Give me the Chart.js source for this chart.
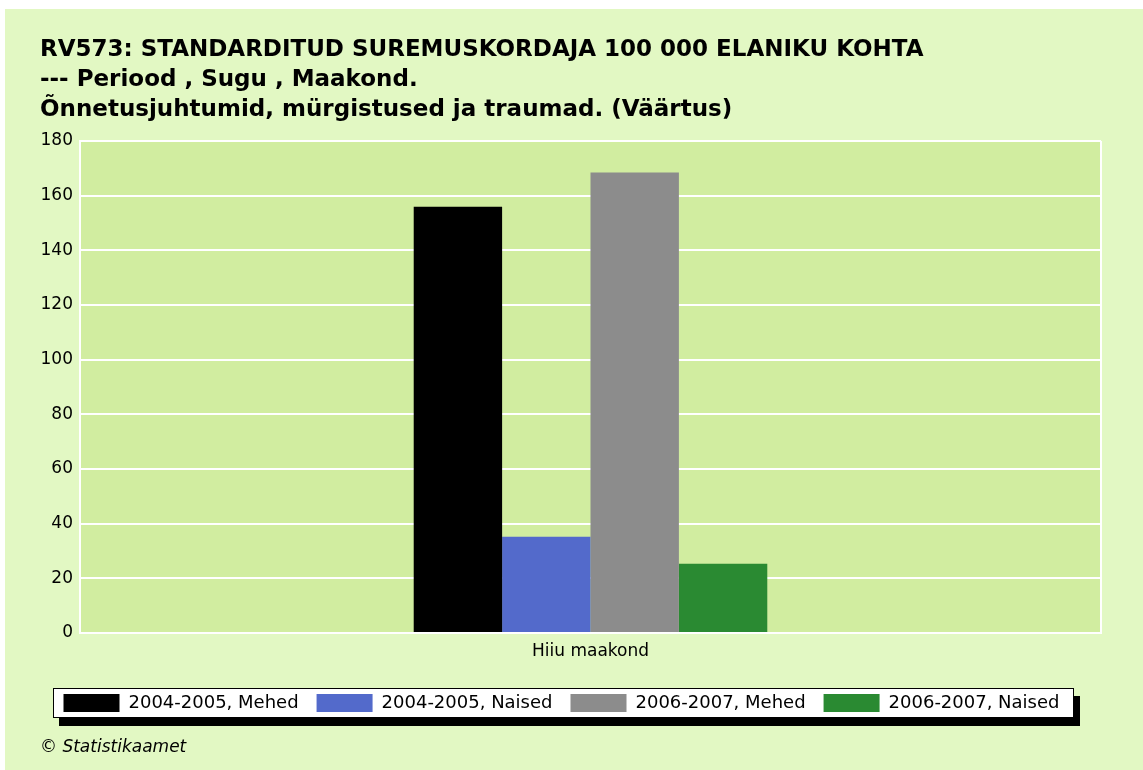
<!DOCTYPE html>
<html>
<head>
<meta charset="utf-8">
<script src="https://cdn.jsdelivr.net/npm/chart.js@4/dist/chart.umd.min.js"></script>
<style>
  html, body { margin: 0; padding: 0; background: #ffffff; }
  #wrap { width: 1143px; height: 770px; position: relative; }
</style>
</head>
<body>
<div id="wrap"><canvas id="c" width="1143" height="770"></canvas></div>
<script>
// ---- data ----
const categories = ['Hiiu maakond'];
const seriesLabels = ['2004-2005, Mehed', '2004-2005, Naised', '2006-2007, Mehed', '2006-2007, Naised'];
const mehed2004 = [155.9];
const naised2004 = [35.2];
const mehed2006 = [168.5];
const naised2006 = [25.3];
const yTickValues = [0, 20, 40, 60, 80, 100, 120, 140, 160, 180];
const titleLines = [
  'RV573: STANDARDITUD SUREMUSKORDAJA 100 000 ELANIKU KOHTA',
  '--- Periood , Sugu , Maakond.',
  'Õnnetusjuhtumid, mürgistused ja traumad. (Väärtus)'
];
const footerText = '© Statistikaamet';

// ---- styles ----
const seriesColors = ['#000000', '#536ACB', '#8C8C8C', '#2A8A32'];
const OUTER_BG = '#E2F8C3';
const PLOT_BG = '#D1EDA0';

Chart.defaults.font.family = "'DejaVu Sans', sans-serif";
Chart.defaults.color = '#000';

const bgPlugin = {
  id: 'bgPlugin',
  afterLayout(chart) {
    // nudge the legend row slightly to the left, as in the reference
    if (chart.legend) {
      chart.legend.left -= 9;
      chart.legend.right -= 9;
    }
  },
  beforeDraw(chart) {
    const { ctx, chartArea: a, width, height } = chart;
    ctx.save();
    ctx.fillStyle = '#ffffff';
    ctx.fillRect(0, 0, width, height);
    ctx.fillStyle = OUTER_BG;
    ctx.fillRect(5, 9, width - 5, height - 9);
    ctx.fillStyle = PLOT_BG;
    ctx.fillRect(a.left, a.top, a.right - a.left, a.bottom - a.top);
    const hb = chart.legend && chart.legend.legendHitBoxes;
    if (hb && hb.length) {
      const first = hb[0], last = hb[hb.length - 1];
      const l = Math.round(first.left - 11);
      const r = Math.round(last.left + last.width + 15);
      const t = Math.round(first.top - 6);
      const b = t + 30;
      ctx.fillStyle = '#000';
      ctx.fillRect(l + 6, t + 8, r - l, b - t);
      ctx.fillStyle = '#fff';
      ctx.fillRect(l, t, r - l, b - t);
      ctx.strokeStyle = '#000';
      ctx.lineWidth = 1;
      ctx.strokeRect(l + 0.5, t + 0.5, r - l - 1, b - t - 1);
    }
    ctx.restore();
  }
};

const values = [mehed2004, naised2004, mehed2006, naised2006];
const datasets = seriesLabels.map((lab, i) => ({
  label: lab,
  data: values[i],
  backgroundColor: seriesColors[i],
  borderWidth: 0,
  barPercentage: 1,
  categoryPercentage: 0.3463
}));

new Chart(document.getElementById('c'), {
  type: 'bar',
  data: { labels: categories, datasets },
  plugins: [bgPlugin],
  options: {
    responsive: false,
    animation: false,
    devicePixelRatio: 1,
    layout: { padding: { left: 40, right: 42, top: 0, bottom: 0 } },
    plugins: {
      tooltip: { enabled: false },
      title: {
        display: true,
        text: titleLines,
        align: 'start',
        color: '#000',
        font: { size: 23, weight: 'bold', lineHeight: 1.304 },
        padding: { top: 35, bottom: 16 }
      },
      subtitle: {
        display: true,
        text: footerText,
        position: 'bottom',
        align: 'start',
        color: '#000',
        font: { size: 17, style: 'italic', lineHeight: 1.18 },
        padding: { top: 16, bottom: 12 }
      },
      legend: {
        position: 'bottom',
        align: 'center',
        labels: {
          boxWidth: 56,
          boxHeight: 18,
          padding: 18,
          color: '#000',
          font: { size: 18 }
        }
      }
    },
    scales: {
      x: {
        grid: { display: true, color: '#ffffff', lineWidth: 2, drawTicks: false },
        border: { display: true, color: '#ffffff', width: 2 },
        ticks: { color: '#000', font: { size: 17 }, padding: 8 },
        afterFit(scale) { scale.height = 43; }
      },
      y: {
        min: yTickValues[0],
        max: yTickValues[yTickValues.length - 1],
        afterBuildTicks(scale) { scale.ticks = yTickValues.map(v => ({ value: v })); },
        grid: { color: '#ffffff', lineWidth: 2, drawTicks: false },
        border: { display: true, color: '#ffffff', width: 2 },
        ticks: { color: '#000', font: { size: 17 }, padding: 7 },
        afterFit(scale) { scale.width = 40; }
      }
    }
  }
});
</script>
</body>
</html>
